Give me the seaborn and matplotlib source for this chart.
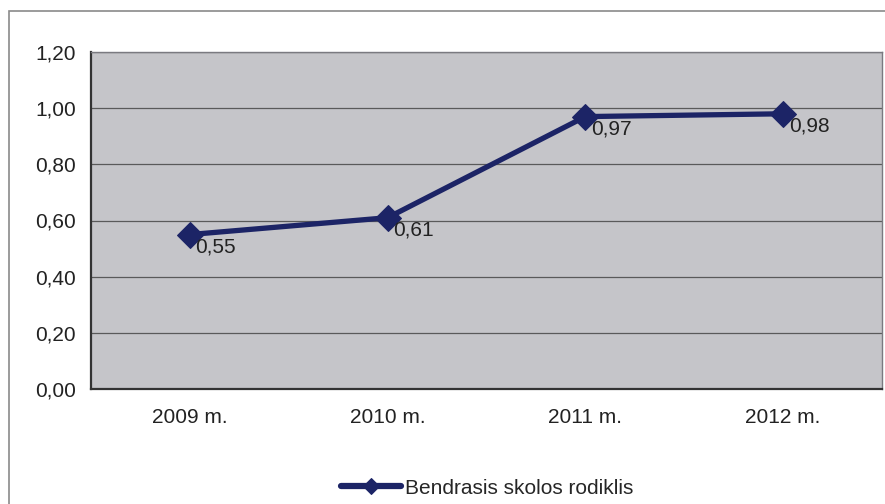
import pandas as pd
import matplotlib.pyplot as plt
import matplotlib.ticker as mticker
from matplotlib.patches import Rectangle
import seaborn as sns

# Duomenys
metai = ['2009 m.', '2010 m.', '2011 m.', '2012 m.']
rodiklis = [0.55, 0.61, 0.97, 0.98]
serija = 'Bendrasis skolos rodiklis'

dados = pd.DataFrame({'Metai': metai, 'Reiksme': rodiklis})

sns.set_style('white')
plt.rcParams['font.family'] = ['Liberation Sans', 'DejaVu Sans']

fig = plt.figure(figsize=(8.85, 5.04), dpi=100)
ax = fig.add_axes([91/885, 115/504, 791/885, 337/504])
ax.set_facecolor('#c5c5c9')

# rėmelis aplink visą diagramą
fig.patches.append(Rectangle((9/885, -0.05), 1.1, (504-11)/504 + 0.05, transform=fig.transFigure,
                             fill=False, edgecolor='#8a8a8a', linewidth=1.2))

navy = '#1c2466'
sns.lineplot(data=dados, x='Metai', y='Reiksme', ax=ax, color=navy, linewidth=3.8,
             marker='D', markersize=13, markeredgecolor=navy, label=serija, sort=False)

for i, v in enumerate(rodiklis):
    ax.annotate(f'{v:.2f}'.replace('.', ','), (i, v), xytext=(4, -2), textcoords='offset points',
                ha='left', va='top', fontsize=15, color='#222222')

ax.set_xlim(-0.5, 3.5)
ax.set_ylim(0, 1.2)
ax.set_yticks([0, 0.2, 0.4, 0.6, 0.8, 1.0, 1.2])
ax.yaxis.set_major_formatter(mticker.FuncFormatter(lambda v, p: f'{v:.2f}'.replace('.', ',')))
ax.yaxis.grid(True, color='#5a5a5a', linewidth=0.9)
ax.set_axisbelow(True)

ax.set_xticks(range(len(metai)))
ax.set_xticklabels(metai)
ax.set_xticks([-0.5, 0.5, 1.5, 2.5, 3.5], minor=True)
ax.tick_params(axis='x', which='major', length=0, pad=14, labelsize=15, colors='#222222')
ax.tick_params(axis='x', which='minor', length=5, direction='out', color='#333333')
ax.tick_params(axis='y', length=5, direction='out', color='#333333', labelsize=15,
               labelcolor='#222222', pad=6)
ax.set_xlabel('')
ax.set_ylabel('')

for s in ['left', 'bottom']:
    ax.spines[s].set_color('#333333')
    ax.spines[s].set_linewidth(1.6)
for s in ['top', 'right']:
    ax.spines[s].set_color('#7a7a80')
    ax.spines[s].set_linewidth(1.0)

leg = ax.legend(loc='center', bbox_to_anchor=(487/885, 16/504), bbox_transform=fig.transFigure,
                frameon=False, fontsize=15, handlelength=2.9, handletextpad=0.2, markerscale=0.6)
for ln in leg.get_lines():
    ln.set_linewidth(4.5)

fig.savefig('out.png', dpi=100)
